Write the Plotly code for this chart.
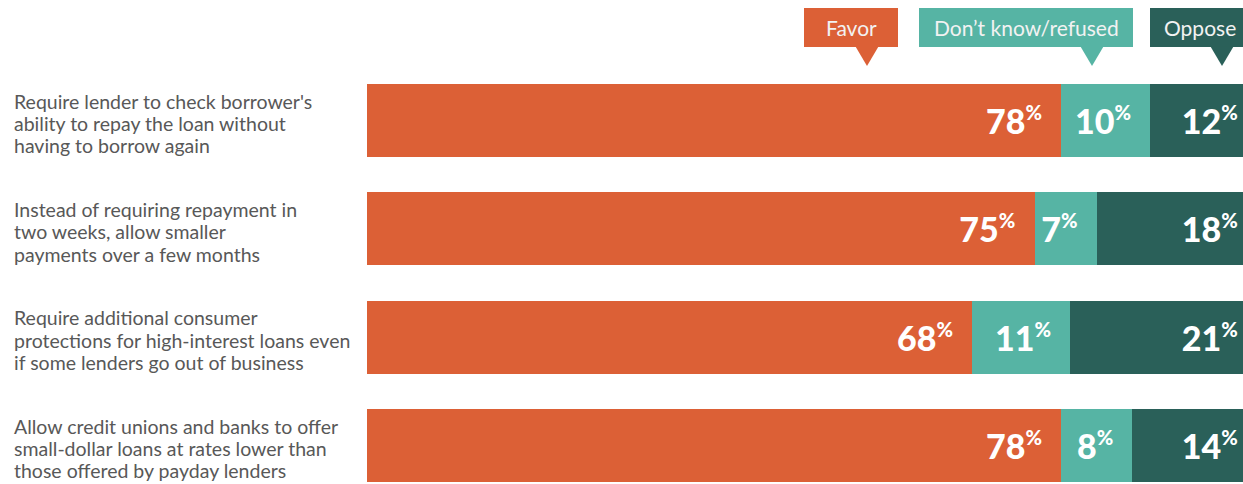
import plotly.graph_objects as go

# ---- data ----
questions = [
    "Require lender to check borrower's<br>ability to repay the loan without<br>having to borrow again",
    "Instead of requiring repayment in<br>two weeks, allow smaller<br>payments over a few months",
    "Require additional consumer<br>protections for high-interest loans even<br>if some lenders go out of business",
    "Allow credit unions and banks to offer<br>small-dollar loans at rates lower than<br>those offered by payday lenders",
]
favor = [78, 75, 68, 78]
dont_know = [10, 7, 11, 8]
oppose = [12, 18, 21, 14]
series_names = ["Favor", "Don\u2019t know/refused", "Oppose"]

# ---- styles ----
C_FAVOR = "#DC6036"
C_DK = "#56B4A4"
C_OPP = "#2A6059"
W, H = 1243, 484
ML, MR, MT, MB = 367, 0, 84, 2
PW, PH = W - ML - MR, H - MT - MB
LINE_H = 22.2

cats = list(range(len(questions)))


def label(v):
    return f"{v}<sup><span style='font-size:20px'>%</span></sup>&nbsp;&nbsp;"


fig = go.Figure()
for name, vals, col in zip(series_names, [favor, dont_know, oppose], [C_FAVOR, C_DK, C_OPP]):
    fig.add_trace(go.Bar(
        y=cats, x=vals, orientation="h", name=name,
        marker=dict(color=col, line=dict(width=0)),
        text=[label(v) for v in vals],
        textposition="inside", insidetextanchor="end",
        textangle=0, constraintext="none",
        textfont=dict(family="Lato", size=34, weight=900, color="white"),
        hoverinfo="skip",
    ))

bargap = 0.326
w = 1 - bargap
fig.update_layout(
    barmode="stack", bargap=bargap,
    width=W, height=H,
    margin=dict(l=ML, r=MR, t=MT, b=MB, pad=0),
    paper_bgcolor="white", plot_bgcolor="white",
    showlegend=False,
    xaxis=dict(range=[0, PW / 8.9], visible=False, fixedrange=True),
    yaxis=dict(range=[len(cats) - 1 + w / 2, -w / 2], visible=False, fixedrange=True),
)

# question labels (left aligned, one annotation per line for tight leading)
for i, q in enumerate(questions):
    lines = q.split("<br>")
    n = len(lines)
    for j, ln in enumerate(lines):
        fig.add_annotation(
            xref="paper", yref="y", x=0, y=cats[i], xanchor="left", yanchor="middle",
            xshift=-(ML - 12), yshift=-((j - (n - 1) / 2) * LINE_H) - 3,
            text=ln, showarrow=False, align="left",
            font=dict(family="Lato", size=19.5, color="#585858"),
        )


# legend callouts (decorative)
def px(xp):
    return (xp - ML) / PW


def py(yp):
    return 1 - (yp - MT) / PH


legend_boxes = [
    (804, 898, 867, C_FAVOR, 851, "center"),
    (919, 1133, 1092, C_DK, 1026, "center"),
    (1150, 1262, 1222, C_OPP, 1162, "left"),
]
for (x0, x1, tip, col, tx, anch), name in zip(legend_boxes, series_names):
    fig.add_shape(type="rect", xref="paper", yref="paper",
                  x0=px(x0), x1=px(x1), y0=py(47), y1=py(8),
                  fillcolor=col, line=dict(width=0), layer="above")
    path = (f"M {px(tip - 11.5)} {py(46.5)} L {px(tip + 11.5)} {py(46.5)} "
            f"L {px(tip)} {py(66)} Z")
    fig.add_shape(type="path", xref="paper", yref="paper", path=path,
                  fillcolor=col, line=dict(width=0), layer="above")
    fig.add_annotation(xref="paper", yref="paper", x=px(tx), y=py(27.5),
                       xanchor=anch, yanchor="middle", text=name, showarrow=False,
                       font=dict(family="Lato", size=21, color="#F2F2F2"))

fig.write_html("out.html", config={"displayModeBar": False})
